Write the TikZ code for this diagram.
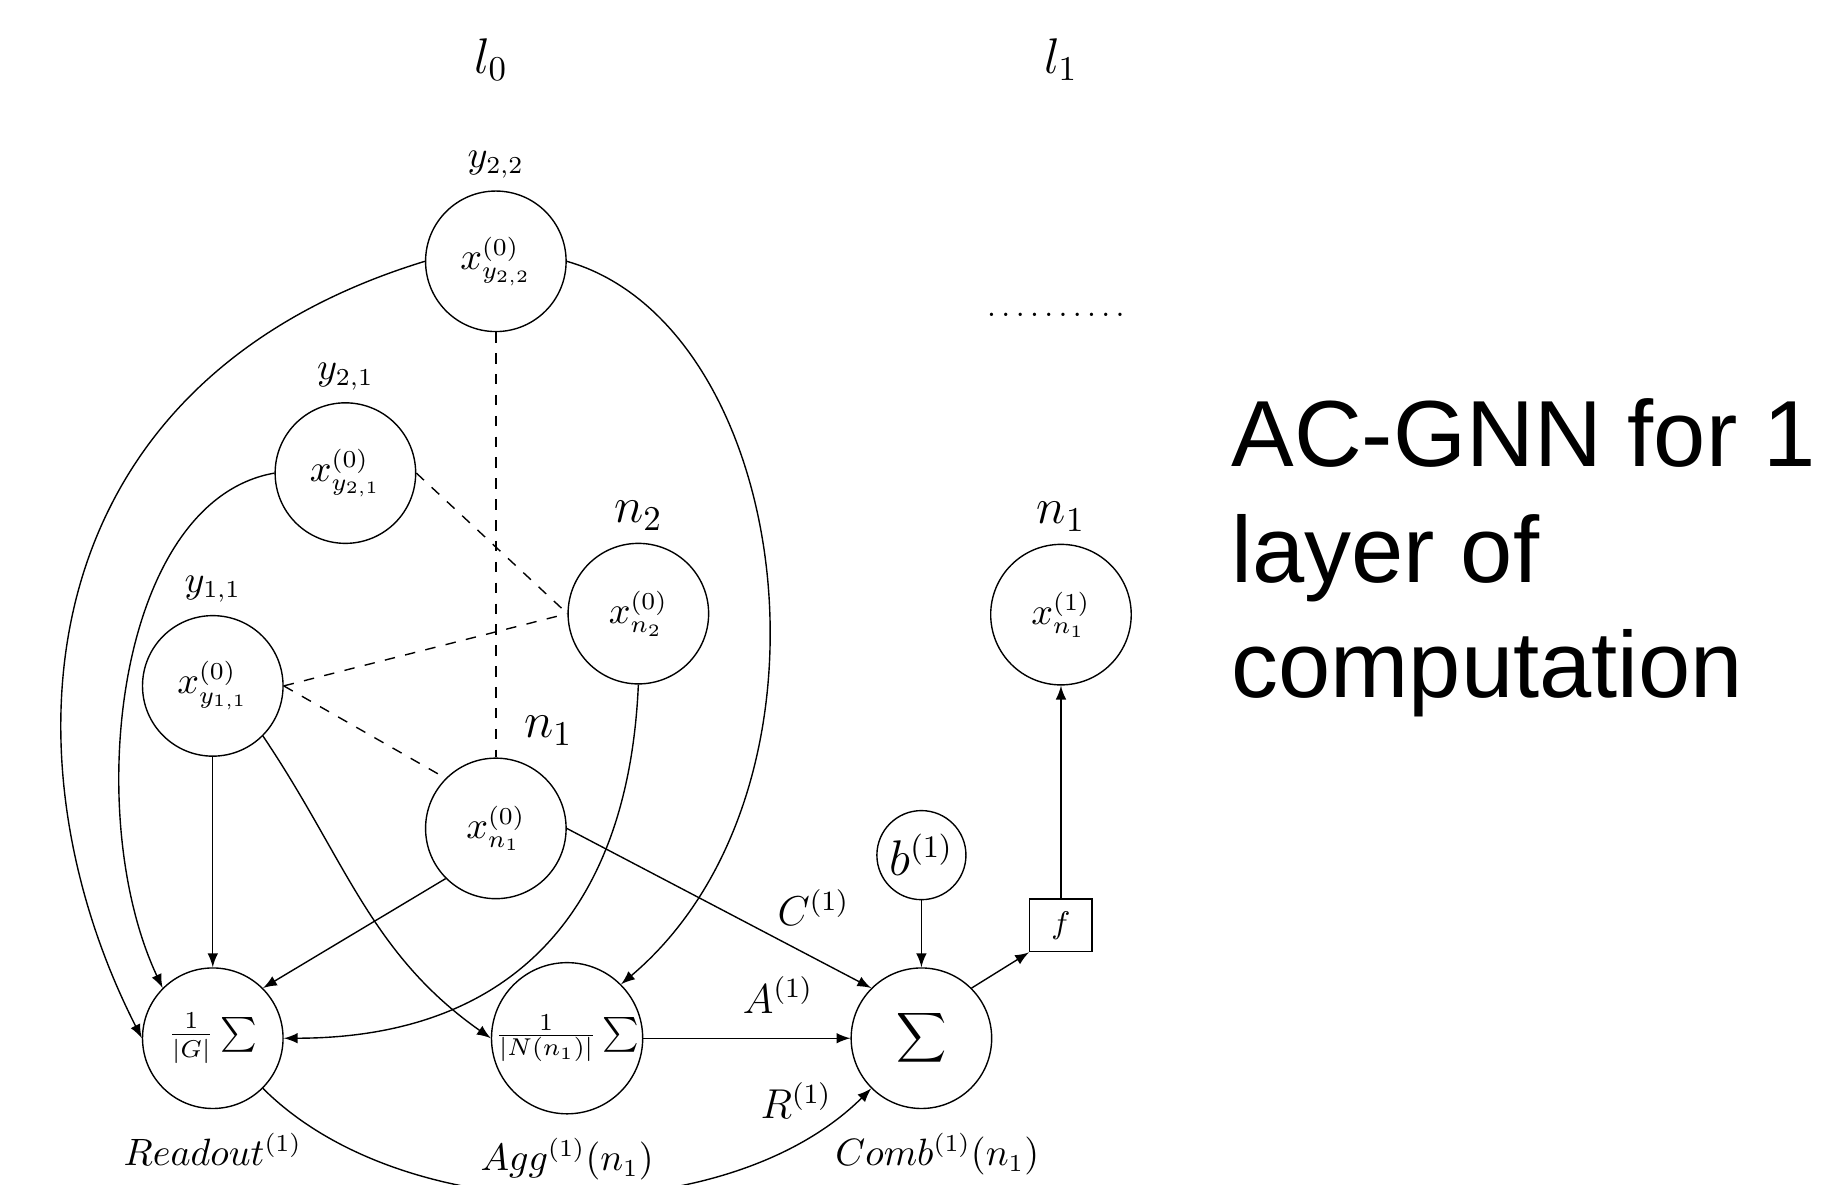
\documentclass[tikz,border=0pt]{standalone}
\usepackage{fontspec}
\newfontfamily\slidefont{Liberation Sans}

\begin{document}
\begin{tikzpicture}[
  every node/.style={font=\fontsize{10.5}{12.6}\selectfont},
  vtx/.style={draw, circle, minimum size=1.42cm, inner sep=0pt},
  bias/.style={draw, circle, minimum size=0.9cm, inner sep=0pt, font=\fontsize{13.5}{16}\selectfont},
  act/.style={draw, minimum width=0.63cm, minimum height=0.53cm, inner sep=0pt, font=\small},
  big/.style={font=\Large},
  elab/.style={font=\large},
  arrow/.style={->, >=latex},
  link/.style={dashed},
  slide/.style={anchor=base west, inner sep=0pt, font=\slidefont\fontsize{27}{33}\selectfont}
]
  \useasboundingbox (0,0) rectangle (18.45,-11.965);

  % Layer titles
  \node[big] (l0) at (4.96,-0.60) {$l_0$};
  \node[big] (l1) at (10.72,-0.60) {$l_1$};
  \node[font=\small] (dots) at (10.67,-3.18) {$.\,.\,.\,.\,.\,.\,.\,.\,.\,.$};

  % Layer 0 nodes
  \node[vtx, label={above:$y_{2,2}$}] (y22) at (5.01,-2.64) {$x^{(0)}_{y_{2,2}}$};
  \node[vtx, label={above:$y_{2,1}$}] (y21) at (3.49,-4.78) {$x^{(0)}_{y_{2,1}}$};
  \node[vtx, label={[big]above:$n_2$}] (n2) at (6.45,-6.20) {$x^{(0)}_{n_2}$};
  \node[vtx, label={above:$y_{1,1}$}] (y11) at (2.15,-6.93) {$x^{(0)}_{y_{1,1}}$};
  \node[vtx, label={[big, xshift=0.53cm]above:$n_1$}] (n1) at (5.01,-8.37) {$x^{(0)}_{n_1}$};

  % Layer 1 node
  \node[vtx, label={[big]above:$n_1$}] (nl1) at (10.72,-6.21) {$x^{(1)}_{n_1}$};

  % Readout, aggregation, combination
  \node[vtx, label={[label distance=0.12cm]below:$Readout^{(1)}$}] (readout) at (2.15,-10.49) {$\frac{1}{|G|}\sum$};
  \node[vtx, label={[label distance=0.12cm]below:$Agg^{(1)}(n_1)$}] (agg) at (5.73,-10.49) {\fontsize{9.5}{11}\selectfont$\frac{1}{|N(n_1)|}\sum$};
  \node[vtx, label={[label distance=0.12cm, xshift=0.16cm]below:$Comb^{(1)}(n_1)$}] (comb) at (9.31,-10.49) {$\displaystyle\sum$};
  \node[bias] (b) at (9.31,-8.64) {$b^{(1)}$};
  \node[act] (f) at (10.72,-9.35) {$f$};

  % Neighbourhood links
  \draw[link] (y22) -- (n1);
  \draw[link] (y21.east) -- (n2.west);
  \draw[link] (y11.east) -- (n2.west);
  \draw[link] (y11.east) -- (n1.north west);

  % Readout inputs
  \draw[arrow] (y22.west) .. controls +(-4.06,-1.24) and +(-1.44,2.82) .. (readout.west);
  \draw[arrow] (y21.west) .. controls +(-1.6,-0.28) and +(-0.82,1.74) .. (readout.north west);
  \draw[arrow] (y11) -- (readout);
  \draw[arrow] (n1.south west) -- (readout.north east);
  \draw[arrow] (n2.south) .. controls +(-0.1,-2.3) and +(2.3,0) .. (readout.east);

  % Aggregation inputs
  \draw[arrow] (y22.east) .. controls +(2.28,-0.65) and +(2.35,1.98) .. (agg.north east);
  \draw[arrow] (y11.south east) to[out=-56, in=145] (agg.west);

  % Combination inputs
  \draw[arrow] (n1.east) -- node[elab, pos=0.81, above=0.2cm] (clab) {$C^{(1)}$} (comb.north west);
  \draw[arrow] (agg) -- node[elab, pos=0.65, above=0.13cm] (alab) {$A^{(1)}$} (comb);
  \draw[arrow] (readout.south east) to[out=-45, in=-135, looseness=0.85]
    node[elab, pos=0.85, above=0.12cm] (rlab) {$R^{(1)}$} (comb.south west);
  \draw[arrow] (b) -- (comb);
  \draw[arrow] (comb.north east) -- (f.south west);
  \draw[arrow] (f) -- (nl1);

  % Caption
  \node[slide] (t1) at (12.435,-4.715) {AC-GNN for 1};
  \node[slide] (t2) at (12.435,-5.887) {layer of};
  \node[slide] (t3) at (12.435,-7.045) {computation};
\end{tikzpicture}
\end{document}
